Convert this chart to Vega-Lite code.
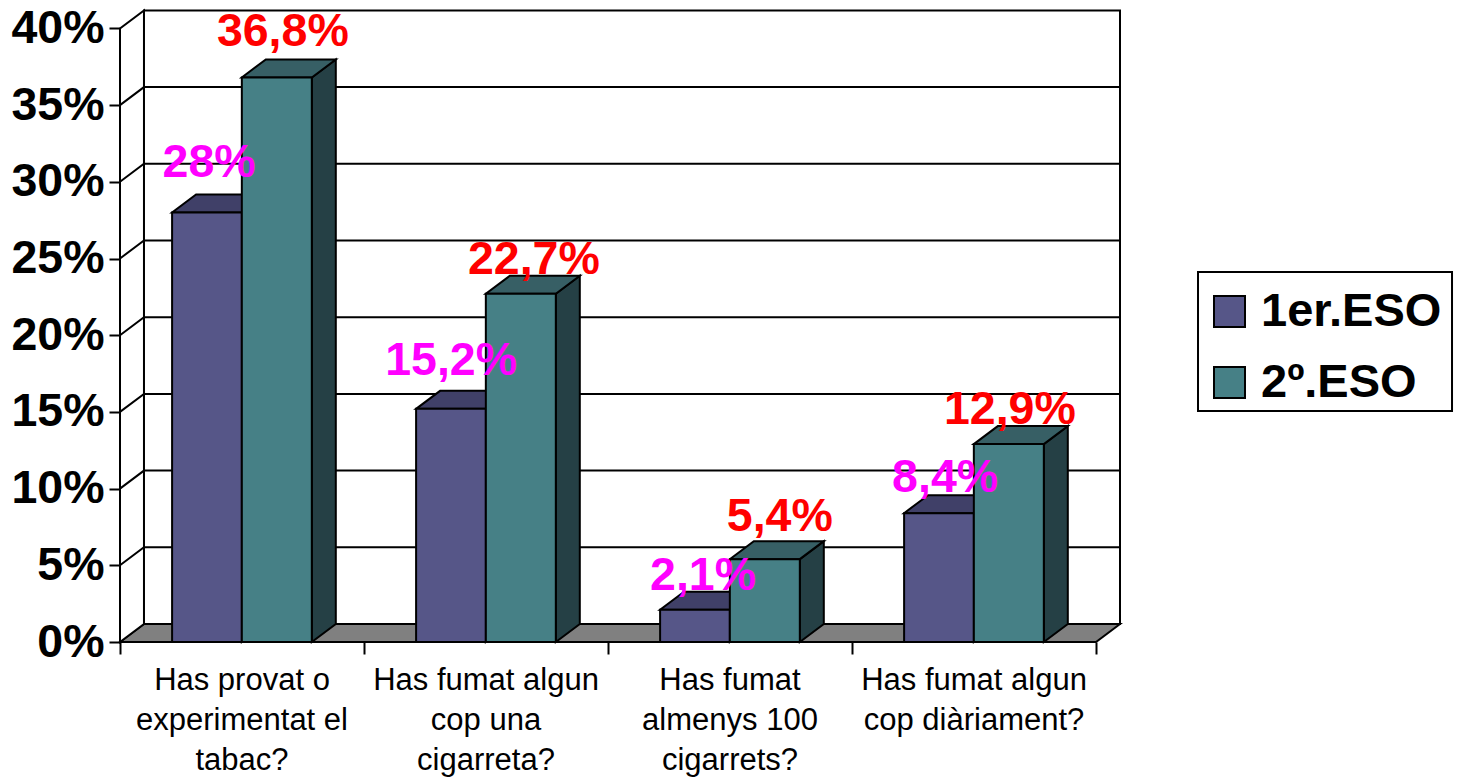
{
  "$schema": "https://vega.github.io/schema/vega-lite/v6.json",
  "autosize": {"type": "none"},
  "padding": {"left": 120, "top": 10, "right": 340, "bottom": 138},
  "width": 1000,
  "height": 632,
  "background": "white",
  "view": {"stroke": null},
  "config": {"font": "Liberation Sans"},
  "params": [
    {"name": "fonsX", "value": 0.0983},
    {"name": "fonsY", "value": 1.173}
  ],
  "datasets": {
    "respostes": [
      {"pregunta": "Has provat o\nexperimentat el\ntabac?", "ordre": 0, "curs": "1er.ESO", "valor": 28, "etiqueta": "28%"},
      {"pregunta": "Has provat o\nexperimentat el\ntabac?", "ordre": 0, "curs": "2º.ESO", "valor": 36.8, "etiqueta": "36,8%"},
      {"pregunta": "Has fumat algun\ncop una\ncigarreta?", "ordre": 1, "curs": "1er.ESO", "valor": 15.2, "etiqueta": "15,2%"},
      {"pregunta": "Has fumat algun\ncop una\ncigarreta?", "ordre": 1, "curs": "2º.ESO", "valor": 22.7, "etiqueta": "22,7%"},
      {"pregunta": "Has fumat\nalmenys 100\ncigarrets?", "ordre": 2, "curs": "1er.ESO", "valor": 2.1, "etiqueta": "2,1%"},
      {"pregunta": "Has fumat\nalmenys 100\ncigarrets?", "ordre": 2, "curs": "2º.ESO", "valor": 5.4, "etiqueta": "5,4%"},
      {"pregunta": "Has fumat algun\ncop diàriament?", "ordre": 3, "curs": "1er.ESO", "valor": 8.4, "etiqueta": "8,4%"},
      {"pregunta": "Has fumat algun\ncop diàriament?", "ordre": 3, "curs": "2º.ESO", "valor": 12.9, "etiqueta": "12,9%"}
    ],
    "nivells": [
      {"nivell": 0}, {"nivell": 5}, {"nivell": 10}, {"nivell": 15}, {"nivell": 20},
      {"nivell": 25}, {"nivell": 30}, {"nivell": 35}, {"nivell": 40}
    ]
  },
  "encoding": {
    "x": {
      "field": "px",
      "type": "quantitative",
      "scale": {"domain": [0, 4.0983], "nice": false, "zero": false},
      "axis": {
        "title": null,
        "values": [0, 1, 2, 3, 4],
        "labels": false,
        "grid": false,
        "domain": false,
        "tickSize": 12,
        "tickWidth": 2,
        "tickColor": "black"
      }
    },
    "y": {
      "field": "py",
      "type": "quantitative",
      "stack": null,
      "scale": {"domain": [0, 41.2], "nice": false, "zero": false},
      "axis": {
        "title": null,
        "values": [0, 5, 10, 15, 20, 25, 30, 35, 40],
        "labelExpr": "datum.value + '%'",
        "labelFont": "Liberation Sans",
        "labelFontSize": 46.5,
        "labelFontWeight": "bold",
        "labelColor": "black",
        "labelPadding": 5,
        "labelOverlap": false,
        "labelBound": false,
        "labelFlush": false,
        "grid": false,
        "domain": false,
        "tickSize": 11,
        "tickWidth": 2,
        "tickColor": "black"
      }
    }
  },
  "layer": [
    {
      "description": "Marc de la llegenda",
      "data": {"values": [{"cara": "llegenda"}]},
      "transform": [
        {"calculate": "4.418", "as": "px"},
        {"calculate": "5.459", "as": "px2"},
        {"calculate": "15.06", "as": "py"},
        {"calculate": "24.12", "as": "py2"}
      ],
      "mark": {"type": "rect", "fill": "white", "stroke": "black", "strokeWidth": 2},
      "encoding": {"x2": {"field": "px2"}, "y2": {"field": "py2"}}
    },
    {
      "description": "Terra de la cambra 3D",
      "data": {"values": [{"cara": "terra"}]},
      "transform": [
        {"calculate": "[0, fonsX, 4, 4 + fonsX]", "as": "px"},
        {"calculate": "[0, 0, 0, fonsY]", "as": "py"},
        {"calculate": "[0, fonsY, fonsY, fonsY]", "as": "py2"},
        {"flatten": ["px", "py", "py2"]}
      ],
      "mark": {"type": "area", "orient": "vertical", "fill": "#808080", "stroke": "black", "strokeWidth": 2},
      "encoding": {"y2": {"field": "py2"}}
    },
    {
      "description": "Paret lateral",
      "data": {"values": [{"cara": "lateral"}]},
      "transform": [
        {"calculate": "[0, fonsX]", "as": "px"},
        {"calculate": "[0, fonsY]", "as": "py"},
        {"calculate": "[40, 40 + fonsY]", "as": "py2"},
        {"flatten": ["px", "py", "py2"]}
      ],
      "mark": {"type": "area", "orient": "vertical", "fill": "white", "stroke": "black", "strokeWidth": 2},
      "encoding": {"y2": {"field": "py2"}}
    },
    {
      "description": "Paret del fons",
      "data": {"values": [{"cara": "fons"}]},
      "transform": [
        {"calculate": "[fonsX, 4 + fonsX]", "as": "px"},
        {"calculate": "[fonsY, fonsY]", "as": "py"},
        {"calculate": "[40 + fonsY, 40 + fonsY]", "as": "py2"},
        {"flatten": ["px", "py", "py2"]}
      ],
      "mark": {"type": "area", "orient": "vertical", "fill": "white", "stroke": "black", "strokeWidth": 2},
      "encoding": {"y2": {"field": "py2"}}
    },
    {
      "description": "Línies de quadrícula que pugen per la paret lateral i recorren el fons",
      "data": {"name": "nivells"},
      "transform": [
        {"filter": "datum.nivell > 0 && datum.nivell < 40"},
        {"calculate": "[0, fonsX, 4 + fonsX]", "as": "px"},
        {"calculate": "[datum.nivell, datum.nivell + fonsY, datum.nivell + fonsY]", "as": "py"},
        {"flatten": ["px", "py"]}
      ],
      "mark": {"type": "line", "stroke": "black", "strokeWidth": 2},
      "encoding": {"detail": {"field": "nivell"}}
    },
    {
      "description": "Barres prismàtiques amb les etiquetes de valor",
      "data": {"name": "respostes"},
      "transform": [
        {"calculate": "datum.ordre + (datum.curs === '1er.ESO' ? 0.2135 : 0.4993)", "as": "bx"},
        {"calculate": "datum.ordre + (datum.curs === '1er.ESO' ? 0.4993 : 0.7861)", "as": "bx2"},
        {"calculate": "datum.ordre + '-' + datum.curs", "as": "barra"}
      ],
      "layer": [
        {
          "transform": [
            {"calculate": "[datum.bx2, datum.bx2 + fonsX]", "as": "px"},
            {"calculate": "[0, fonsY]", "as": "py"},
            {"calculate": "[datum.valor, datum.valor + fonsY]", "as": "py2"},
            {"flatten": ["px", "py", "py2"]}
          ],
          "mark": {"type": "area", "orient": "vertical", "stroke": "black", "strokeWidth": 2},
          "encoding": {
            "y2": {"field": "py2"},
            "detail": {"field": "barra"},
            "fill": {"condition": {"test": "datum.curs === '1er.ESO'", "value": "#2d2d48"}, "value": "#254045"}
          }
        },
        {
          "transform": [
            {"calculate": "[datum.bx, datum.bx + fonsX, datum.bx2, datum.bx2 + fonsX]", "as": "px"},
            {"calculate": "[datum.valor, datum.valor, datum.valor, datum.valor + fonsY]", "as": "py"},
            {"calculate": "[datum.valor, datum.valor + fonsY, datum.valor + fonsY, datum.valor + fonsY]", "as": "py2"},
            {"flatten": ["px", "py", "py2"]}
          ],
          "mark": {"type": "area", "orient": "vertical", "stroke": "black", "strokeWidth": 2},
          "encoding": {
            "y2": {"field": "py2"},
            "detail": {"field": "barra"},
            "fill": {"condition": {"test": "datum.curs === '1er.ESO'", "value": "#404068"}, "value": "#375f65"}
          }
        },
        {
          "transform": [
            {"calculate": "datum.bx", "as": "px"},
            {"calculate": "datum.bx2", "as": "px2"},
            {"calculate": "0", "as": "py"},
            {"calculate": "datum.valor", "as": "py2"}
          ],
          "mark": {"type": "rect", "stroke": "black", "strokeWidth": 2},
          "encoding": {
            "x2": {"field": "px2"},
            "y2": {"field": "py2"},
            "color": {
              "field": "curs",
              "type": "nominal",
              "scale": {"domain": ["1er.ESO", "2º.ESO"], "range": ["#565688", "#468086"]},
              "legend": {
                "orient": "none",
                "legendX": 1078,
                "legendY": 270,
                "title": null,
                "padding": 8,
                "symbolType": "square",
                "symbolSize": 961,
                "symbolStrokeColor": "black",
                "symbolStrokeWidth": 2,
                "labelFont": "Liberation Sans",
                "labelFontSize": 47,
                "labelFontWeight": "bold",
                "labelColor": "black",
                "labelOffset": 8,
                "labelLimit": 300,
                "rowPadding": 23
              }
            }
          }
        },
        {
          "transform": [
            {"calculate": "{'28%': 2, '36,8%': 6, '15,2%': 0, '22,7%': 13, '2,1%': 8, '5,4%': 15, '8,4%': 6, '12,9%': 1}[datum.etiqueta]", "as": "desvX"},
            {"calculate": "{'28%': 35, '36,8%': 31, '15,2%': 34, '22,7%': 20, '2,1%': 20, '5,4%': 28, '8,4%': 21, '12,9%': 20}[datum.etiqueta]", "as": "desvY"},
            {"calculate": "datum.bx + 0.1434 + datum.desvX / 244", "as": "px"},
            {"calculate": "datum.valor + datum.desvY / 15.34", "as": "py"}
          ],
          "mark": {"type": "text", "font": "Liberation Sans", "fontSize": 46.5, "fontWeight": "bold", "align": "center", "baseline": "alphabetic"},
          "encoding": {
            "text": {"field": "etiqueta"},
            "color": {"condition": {"test": "datum.curs === '1er.ESO'", "value": "#ff00ff"}, "value": "#ff0000"}
          }
        },
        {
          "transform": [
            {"filter": "datum.curs === '1er.ESO'"},
            {"calculate": "datum.ordre + 0.5", "as": "px"},
            {"calculate": "-1.55", "as": "py"}
          ],
          "mark": {"type": "text", "font": "Liberation Sans", "fontSize": 31, "align": "center", "baseline": "top", "lineBreak": "\n", "lineHeight": 40, "color": "black"},
          "encoding": {"text": {"field": "pregunta"}}
        }
      ]
    }
  ]
}
